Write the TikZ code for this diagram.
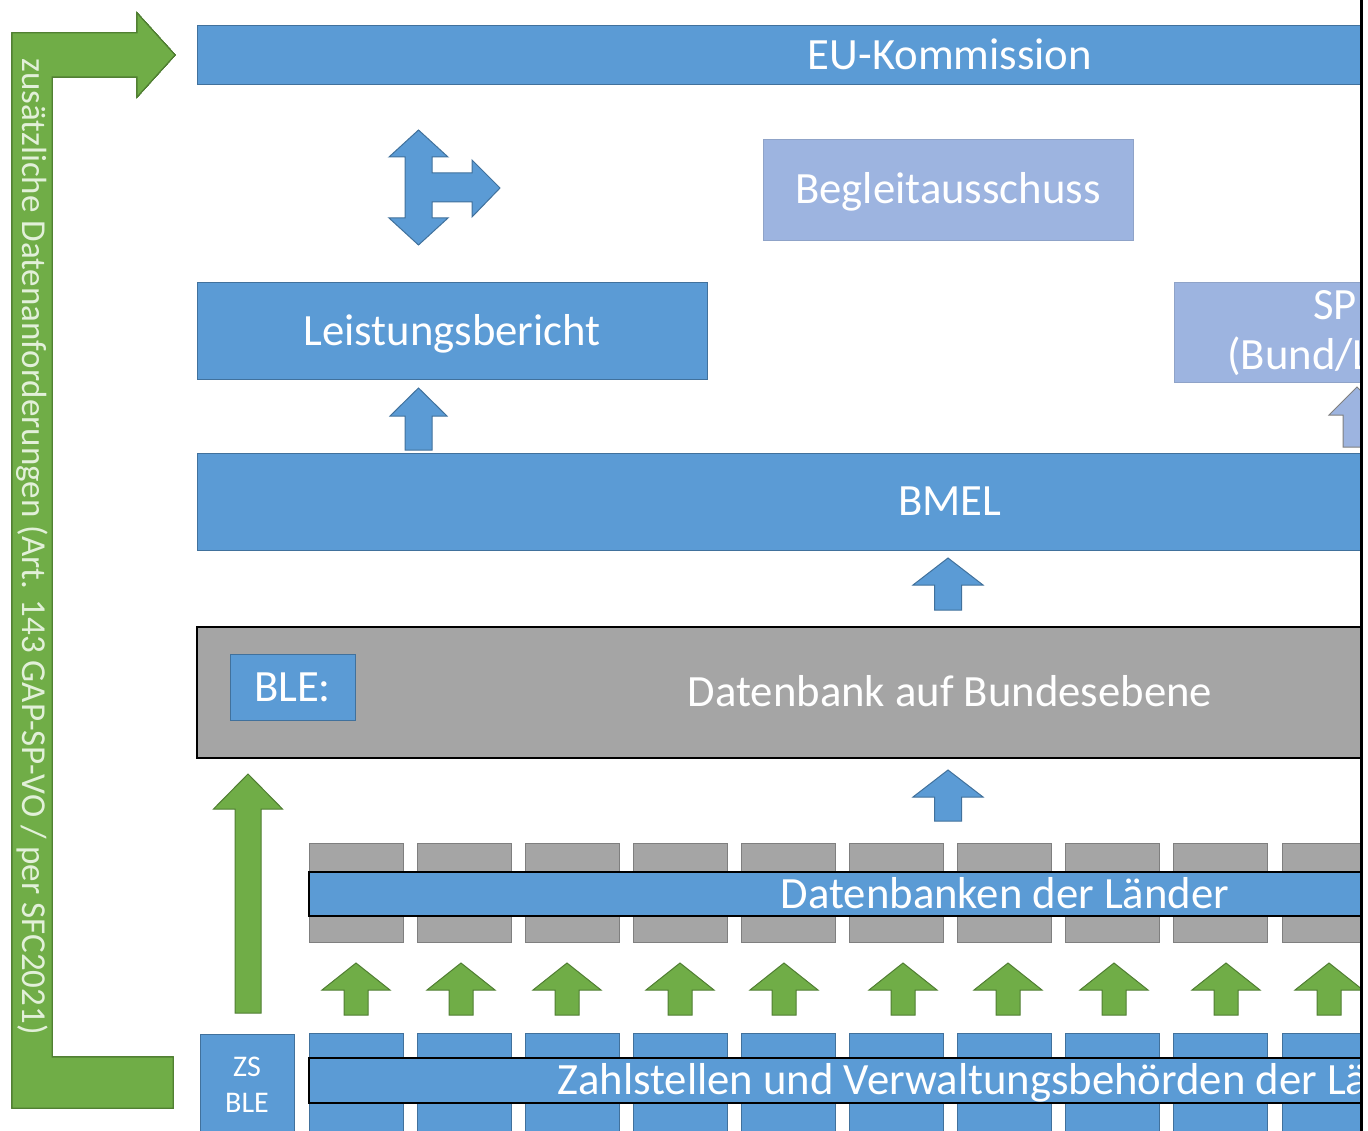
\documentclass[tikz,border=0pt]{standalone}
\usepackage{fontspec}
\setmainfont{Carlito}
\usepackage{xcolor}

\definecolor{boxblue}{HTML}{5B9BD5}
\definecolor{boxblueline}{HTML}{41719C}
\definecolor{paleblue}{HTML}{9DB4E0}
\definecolor{palebluel}{HTML}{8FA3C8}
\definecolor{boxgray}{HTML}{A5A5A5}
\definecolor{boxgrayline}{HTML}{7F7F7F}
\definecolor{arrgreen}{HTML}{70AD47}
\definecolor{arrgreenline}{HTML}{507E32}
\definecolor{greentext}{HTML}{E2F0D9}

% block arrow pointing up: style, centre x, tip y, head base y, bottom y, head half width, shaft half width
\newcommand\blockarrow[7]{%
  \draw[#1] (#2-#7,#5) -- (#2-#7,#4) -- (#2-#6,#4) -- (#2,#3) -- (#2+#6,#4) -- (#2+#7,#4) -- (#2+#7,#5) -- cycle;}

\begin{document}
\begin{tikzpicture}
	[x=1pt, y=-1pt, inner sep=0pt,
	 bigtext/.style = {font=\fontsize{44.7}{50}\selectfont, text height=28.8pt, text depth=0pt},
	 bluebox/.style = {draw=boxblueline, fill=boxblue, line width=1pt, text=white, bigtext},
	 palebox/.style = {draw=palebluel, fill=paleblue, line width=0.8pt, text=white, bigtext},
	 graybox/.style = {draw=black, fill=boxgray, line width=2pt, text=white, bigtext},
	 band/.style = {draw=black, fill=boxblue, line width=2pt, text=white, bigtext},
	 graytile/.style = {draw=boxgrayline, fill=boxgray, line width=0.8pt, minimum width=94pt, minimum height=99pt},
	 bluetile/.style = {draw=boxblueline, fill=boxblue, line width=0.8pt, minimum width=94pt, minimum height=107pt},
	 bluearr/.style = {draw=boxblueline, fill=boxblue, line width=1pt, line join=miter},
	 palearr/.style = {draw=boxgrayline, fill=paleblue, line width=1pt, line join=miter},
	 greenarr/.style = {draw=arrgreenline, fill=arrgreen, line width=1pt, line join=miter}]
	\useasboundingbox (0,0) rectangle (1368,1131);
	\begin{scope}
	\clip (0,0) rectangle (1360,1131);
	% top level
	\node[bluebox, minimum width=1506pt, minimum height=59pt] (eu) at (950,55.5) {EU-Kommission};
	\node[palebox, minimum width=370pt, minimum height=101pt] (begl) at (948,189.5) {Begleitausschuss};
	\node[bluebox, minimum width=510pt, minimum height=97pt] (leist) at (452,331.5) {Leistungsbericht};
	\node[palebox, minimum width=510pt, minimum height=100pt] (sp) at (1429,332) {};
	\node[text=white, font=\fontsize{44.7}{50}\selectfont, anchor=base west] (sp1) at (1313,320) {SP};
	\node[text=white, font=\fontsize{44.7}{50}\selectfont, anchor=base west] (sp2) at (1227,370) {(Bund/Länder)};
	\node[bluebox, minimum width=1506pt, minimum height=97pt] (bmel) at (950,501.5) {BMEL};
	\node[graybox, minimum width=1506pt, minimum height=131pt] (ble) at (950,692.5) {Datenbank auf Bundesebene};
	\node[bluebox, minimum width=125pt, minimum height=66pt] (blelab) at (292.5,687) {BLE:};
	% Laender
	\foreach \i in {0,...,12}
		\node[graytile] (db\i) at ({356+108.1*\i},892.5) {};
	\node[band, minimum width=1392pt, minimum height=44pt] (dbl) at (1005,894) {Datenbanken der Länder};
	\foreach \i in {0,...,12}
		\node[bluetile] (zs\i) at ({356+108.1*\i},1086.5) {};
	\node[band, minimum width=1392pt, minimum height=45pt] (zsl) at (1005,1080.5) {Zahlstellen und Verwaltungsbehörden der Länder};
	\node[bluebox, minimum width=94pt, minimum height=102pt, align=center, text height=, text depth=,
		font=\fontsize{30}{36}\selectfont] (zsble) at (247,1085) {ZS\\BLE};
	% arrows
	\draw[bluearr] (418.5,130) -- (448,157) -- (432,157) -- (432,173) -- (472,173) -- (472,160) -- (500,188)
		-- (472,217) -- (472,202) -- (432,202) -- (432,218) -- (448,218) -- (418.5,245) -- (389,218)
		-- (405,218) -- (405,157) -- (389,157) -- cycle;
	\blockarrow{bluearr}{418.5}{388}{416}{450}{28.5}{13.5}
	\blockarrow{palearr}{1357}{387}{415}{447}{28}{14}
	\blockarrow{bluearr}{948}{558}{585}{610}{35}{13.5}
	\blockarrow{bluearr}{948}{770}{797}{821}{35}{13.5}
	\blockarrow{greenarr}{248}{774}{809}{1013}{34.5}{13}
	\foreach \cx in {356,461,567,680,784,903,1008,1114,1226,1329}
		\blockarrow{greenarr}{\cx}{963}{990}{1015}{34}{12}
	% additional data requests
	\draw[greenarr] (12,1108) -- (173,1108) -- (173,1057) -- (52,1057) -- (52,77) -- (137,77) -- (137,97)
		-- (175,55) -- (137,13) -- (137,33) -- (12,33) -- cycle;
	\node[rotate=-90, text=greentext, font=\fontsize{35}{40}\selectfont] (zusatz) at (32,546.5)
		{zusätzliche Datenanforderungen (Art. 143 GAP-SP-VO / per SFC2021)};
	\end{scope}
	\fill (1360,0) rectangle (1363,1131);
\end{tikzpicture}
\end{document}
